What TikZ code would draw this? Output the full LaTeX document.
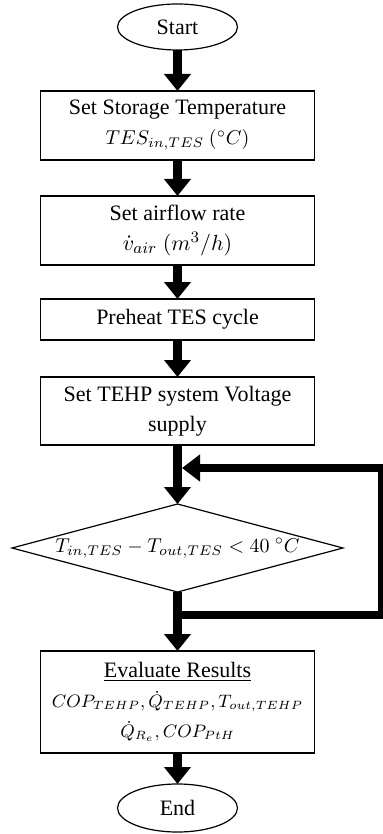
\documentclass[tikz,border=0pt]{standalone}
\usepackage{fontspec}
\setmainfont{Liberation Serif}
\usepackage{tikz}
\usepackage{xcolor}
\usetikzlibrary{arrows.meta,positioning,shapes.geometric}
\definecolor{Ink}{HTML}{000000}
\newcommand{\mathline}[2][9.6]{{\fontsize{#1}{15}\selectfont$#2$}}
\tikzset{
  box/.style={draw=Ink,line width=0.6pt,minimum width=137pt,align=center,font=\fontsize{11}{15}\selectfont,text=Ink,inner sep=3pt,outer sep=0pt},
  term/.style={draw=Ink,line width=0.6pt,ellipse,minimum width=60pt,inner sep=1pt,outer sep=0pt,font=\fontsize{11}{14.5}\selectfont,text=Ink},
  check/.style={draw=Ink,line width=0.6pt,diamond,minimum width=165.5pt,minimum height=44pt,inner sep=0pt,outer sep=0pt,font=\fontsize{10.2}{14.5}\selectfont,text=Ink},
  arr/.style={-{Triangle[width=13pt,length=8.5pt]},draw=Ink,line width=4.5pt},
  looparr/.style={-{Triangle[width=13pt,length=9pt]},draw=Ink,line width=4pt}
}

\begin{document}
\begin{tikzpicture}[node distance=18pt]
  \useasboundingbox (0,0) rectangle (191pt,-417pt);
  \node[term,minimum height=23pt] (start) at (88.75pt,-13.5pt) {Start};
  \node[box,minimum height=34.5pt,below=20.5pt of start] (storage) {Set Storage Temperature\\\mathline{TES_{in,TES}\ ({}^{\circ}C)}};
  \node[box,minimum height=34.5pt,below=of storage] (airflow) {Set airflow rate\\$\dot{v}_{air}\ (m^{3}/h)$};
  \node[box,minimum height=20.5pt,below=17pt of airflow] (preheat) {Preheat TES cycle};
  \node[box,minimum height=34pt,below=18.5pt of preheat] (voltage) {Set TEHP system Voltage\\supply};
  \node[check,below=29.5pt of voltage] (tempcheck) {\makebox[0pt]{$T_{in,TES}-T_{out,TES}<40\ {}^{\circ}C$}};
  \node[box,minimum height=51pt,below=29.5pt of tempcheck] (results) {\underline{Evaluate Results}\\\mathline[9]{COP_{TEHP},\dot{Q}_{TEHP},T_{out,TEHP}}\\\mathline[9]{\dot{Q}_{R_e},COP_{PtH}}};
  \node[term,minimum height=24pt,below=15.5pt of results] (finish) {End};
  % loop back from the check
  \coordinate[below=11.5pt of tempcheck.south] (loopfrom);
  \coordinate[right=102pt of loopfrom] (loopcorner);
  \coordinate[below right=11.5pt and 2.25pt of voltage.south] (loophit);
  \draw[arr] (start) -- (storage);
  \draw[arr] (storage) -- (airflow);
  \draw[arr] (airflow) -- (preheat);
  \draw[arr] (preheat) -- (voltage);
  \draw[arr] (voltage) -- (tempcheck);
  \draw[arr] (tempcheck) -- (results);
  \draw[arr] (results) -- (finish);
  \draw[looparr] (loopfrom) -- (loopcorner) |- (loophit);
\end{tikzpicture}
\end{document}
